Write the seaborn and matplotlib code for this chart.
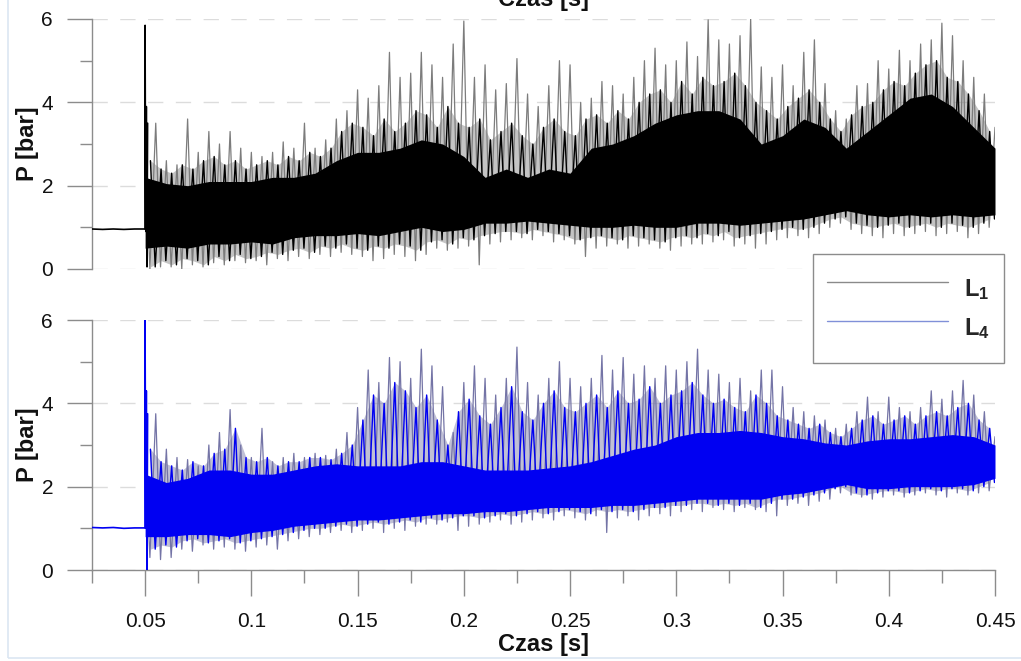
import numpy as np
import matplotlib
matplotlib.use("Agg")
import matplotlib.pyplot as plt
from matplotlib.lines import Line2D
from matplotlib.patches import Rectangle
from matplotlib.ticker import FixedLocator, FuncFormatter
import seaborn as sns

# ---------------------------------------------------------------------------
# Pressure records P [bar] vs time [s] for probes L1 and L4
# ---------------------------------------------------------------------------

# quiet phase before ignition
t_base = [0.025, 0.030, 0.035, 0.040, 0.045, 0.0499]
l1_base = [0.96, 0.95, 0.96, 0.95, 0.96, 0.96]
l4_base = [1.02, 1.01, 1.02, 1.00, 1.01, 1.01]

# ignition transient
t_onset = [0.0500, 0.0503, 0.0506, 0.0509, 0.0512]
l1_onset = [5.85, 0.90, 3.90, 0.05, 3.50]
l4_onset = [6.00, 1.00, 4.30, 0.00, 3.75]

# tallest spikes (peak / trough), every 5 ms from 0.05 s to 0.45 s
t_spk = np.linspace(0.05, 0.45, 81)
l1_spk_hi = [2.9, 3.5, 2.6, 2.5, 3.6, 2.8, 3.3, 3.0, 3.3, 2.9,
             2.8, 2.7, 2.8, 3.05, 2.9, 3.5, 2.9, 3.1, 3.6, 3.8,
             4.3, 4.1, 4.4, 5.2, 4.6, 4.7, 5.2, 4.9, 4.6, 5.4,
             5.95, 4.6, 4.9, 4.3, 4.45, 5.05, 4.2, 3.9, 4.4, 5.0,
             4.9, 4.0, 4.1, 4.5, 4.4, 4.2, 4.6, 5.0, 5.3, 4.9,
             5.0, 5.45, 5.1, 5.98, 5.5, 5.4, 5.6, 6.0, 4.85, 4.6,
             4.9, 4.4, 5.2, 5.5, 4.45, 3.8, 3.6, 4.4, 4.45, 5.0,
             4.8, 5.25, 5.0, 5.4, 5.5, 5.9, 5.6, 5.0, 4.6, 4.2,
             3.4]
l1_spk_lo = [0.0, 0.05, 0.05, 0.0, 0.1, 0.05, 0.15, 0.1, 0.2, 0.15,
             0.2, 0.1, 0.25, 0.2, 0.3, 0.25, 0.35, 0.3, 0.4, 0.35,
             0.3, 0.2, 0.25, 0.35, 0.3, 0.2, 0.35, 0.5, 0.45, 0.5,
             0.55, 0.1, 0.6, 0.65, 0.7, 0.75, 0.7, 0.8, 0.65, 0.7,
             0.6, 0.3, 0.5, 0.55, 0.6, 0.5, 0.55, 0.6, 0.5, 0.45,
             0.55, 0.6, 0.6, 0.65, 0.7, 0.55, 0.6, 0.5, 0.6, 0.7,
             0.75, 0.8, 0.75, 0.85, 1.0, 1.1, 0.95, 0.85, 0.8, 0.75,
             0.85, 0.8, 0.85, 0.9, 0.8, 0.85, 0.9, 0.75, 0.85, 1.0,
             1.1]
l4_spk_hi = [2.8, 3.75, 2.9, 2.7, 2.65, 2.5, 3.0, 3.3, 3.85, 3.0,
             2.7, 3.4, 2.6, 2.7, 2.8, 2.7, 2.8, 2.75, 2.9, 3.3,
             3.9, 4.8, 4.5, 5.1, 5.0, 4.6, 5.3, 4.9, 4.4, 3.3,
             4.5, 4.9, 4.6, 4.2, 4.6, 5.35, 4.5, 4.2, 4.6, 5.0,
             4.6, 4.4, 4.6, 5.15, 4.8, 5.1, 4.7, 4.9, 4.6, 4.9,
             4.8, 5.0, 5.3, 4.8, 4.7, 4.5, 4.6, 4.3, 4.8, 4.8,
             4.4, 3.9, 3.8, 3.7, 3.6, 3.4, 3.5, 3.8, 4.15, 3.8,
             4.15, 3.9, 3.8, 3.9, 4.3, 4.1, 4.3, 4.55, 4.2, 3.8,
             3.2]
l4_spk_lo = [0.3, 0.25, 0.3, 0.5, 0.45, 0.6, 0.5, 0.55, 0.5, 0.45,
             0.55, 0.6, 0.5, 0.7, 0.75, 0.8, 0.85, 0.9, 0.95, 0.9,
             0.95, 1.0, 0.9, 1.0, 0.95, 1.05, 1.1, 1.1, 1.15, 0.95,
             1.05, 1.1, 1.15, 1.2, 1.1, 1.15, 1.2, 1.25, 1.2, 1.3,
             1.25, 1.2, 1.3, 0.9, 1.25, 1.3, 1.2, 1.3, 1.35, 1.3,
             1.4, 1.45, 1.4, 1.5, 1.45, 1.4, 1.5, 1.45, 1.4, 1.3,
             1.55, 1.6, 1.55, 1.65, 1.7, 1.85, 1.8, 1.75, 1.7, 1.75,
             1.8, 1.75, 1.8, 1.85, 1.8, 1.75, 1.85, 1.8, 1.85, 1.9,
             2.0]

# intermediate spikes between the tall ones, every 5 ms from 0.0525 s
t_mid = np.linspace(0.0525, 0.4475, 80)
l1_mid_hi = [2.6, 2.4, 2.3, 2.5, 2.4, 2.6, 2.7, 2.5, 2.6, 2.4,
             2.5, 2.6, 2.5, 2.7, 2.6, 2.8, 2.7, 2.9, 3.3, 3.5,
             3.4, 3.2, 3.6, 3.3, 3.5, 3.8, 3.7, 3.4, 3.9, 3.5,
             3.4, 3.6, 3.1, 3.3, 3.5, 3.2, 3.0, 3.4, 3.6, 3.3,
             3.2, 3.6, 3.7, 3.5, 3.8, 3.6, 4.0, 4.2, 4.3, 4.0,
             4.5, 4.2, 4.6, 4.4, 4.5, 4.7, 4.4, 4.0, 3.8, 3.6,
             3.9, 4.1, 4.3, 4.0, 3.6, 3.3, 3.7, 3.9, 4.0, 4.3,
             4.5, 4.4, 4.7, 4.9, 5.0, 4.6, 4.5, 4.2, 3.8, 3.3]
l1_mid_lo = [0.05, 0.2, 0.1, 0.25, 0.2, 0.1, 0.3, 0.2, 0.35, 0.25,
             0.3, 0.4, 0.35, 0.45, 0.5, 0.4, 0.55, 0.5, 0.6, 0.5,
             0.45, 0.55, 0.5, 0.6, 0.55, 0.45, 0.65, 0.7, 0.6, 0.75,
             0.7, 0.8, 0.85, 0.9, 0.9, 0.85, 0.95, 0.9, 0.85, 0.8,
             0.7, 0.75, 0.8, 0.75, 0.7, 0.8, 0.75, 0.7, 0.65, 0.75,
             0.8, 0.75, 0.85, 0.8, 0.9, 0.75, 0.8, 0.85, 0.9, 0.95,
             1.0, 0.95, 1.0, 1.1, 1.2, 1.25, 1.1, 1.05, 1.0, 1.05,
             1.1, 1.0, 1.05, 1.1, 1.0, 1.1, 1.05, 1.0, 1.1, 1.2]
l4_mid_hi = [2.9, 2.6, 2.5, 2.4, 2.6, 2.5, 2.8, 2.9, 3.4, 2.7,
             2.6, 2.7, 2.5, 2.6, 2.6, 2.7, 2.7, 2.65, 2.8, 3.0,
             3.6, 4.2, 4.0, 4.5, 4.3, 3.9, 4.2, 3.6, 3.0, 3.8,
             4.1, 3.7, 3.5, 3.9, 4.4, 3.8, 3.6, 4.0, 4.3, 3.9,
             3.8, 4.0, 4.2, 3.9, 4.3, 4.0, 4.1, 4.4, 4.0, 4.2,
             4.3, 4.5, 4.2, 4.0, 4.1, 3.9, 3.8, 4.2, 4.0, 3.7,
             3.6, 3.5, 3.4, 3.5, 3.3, 3.2, 3.4, 3.6, 3.7, 3.5,
             3.6, 3.7, 3.5, 3.7, 3.8, 3.7, 3.9, 4.0, 3.6, 3.4]
l4_mid_lo = [0.5, 0.6, 0.55, 0.7, 0.75, 0.65, 0.7, 0.75, 0.65, 0.7,
             0.75, 0.8, 0.85, 0.9, 0.95, 1.0, 1.0, 1.05, 1.1, 1.05,
             1.1, 1.15, 1.1, 1.15, 1.2, 1.15, 1.25, 1.2, 1.25, 1.3,
             1.3, 1.25, 1.3, 1.35, 1.3, 1.35, 1.4, 1.35, 1.4, 1.45,
             1.4, 1.35, 1.45, 1.4, 1.45, 1.4, 1.45, 1.5, 1.5, 1.55,
             1.55, 1.6, 1.6, 1.55, 1.6, 1.55, 1.6, 1.5, 1.6, 1.7,
             1.7, 1.75, 1.8, 1.85, 1.95, 2.0, 1.85, 1.8, 1.85, 1.9,
             1.9, 1.85, 1.9, 1.95, 1.9, 1.95, 1.95, 1.9, 2.0, 2.1]

# dense oscillation band, every 10 ms
t_core = np.linspace(0.05, 0.45, 41)
l1_core_hi = [2.2, 2.05, 2.0, 2.1, 2.1, 2.1, 2.2, 2.2, 2.3, 2.6,
              2.8, 2.8, 2.9, 3.1, 3.0, 2.7, 2.2, 2.4, 2.2, 2.4,
              2.3, 2.9, 3.0, 3.2, 3.5, 3.7, 3.8, 3.8, 3.6, 3.0,
              3.2, 3.6, 3.4, 2.9, 3.3, 3.7, 4.1, 4.2, 3.9, 3.4,
              2.9]
l1_core_lo = [0.5, 0.55, 0.5, 0.6, 0.6, 0.65, 0.6, 0.75, 0.8, 0.8,
              0.85, 0.8, 0.9, 1.0, 0.9, 0.95, 1.1, 1.1, 1.15, 1.1,
              1.05, 1.0, 1.0, 1.05, 1.0, 1.0, 1.1, 1.1, 1.05, 1.1,
              1.15, 1.2, 1.3, 1.4, 1.3, 1.25, 1.3, 1.25, 1.3, 1.25,
              1.3]
l4_core_hi = [2.3, 2.1, 2.2, 2.4, 2.4, 2.3, 2.3, 2.4, 2.5, 2.55,
              2.5, 2.5, 2.5, 2.6, 2.6, 2.5, 2.4, 2.4, 2.4, 2.45,
              2.5, 2.6, 2.75, 2.9, 3.0, 3.2, 3.3, 3.3, 3.35, 3.3,
              3.2, 3.15, 3.05, 3.0, 3.1, 3.15, 3.15, 3.2, 3.25, 3.2,
              3.0]
l4_core_lo = [0.8, 0.8, 0.85, 0.85, 0.8, 0.9, 0.95, 1.05, 1.1, 1.15,
              1.2, 1.2, 1.25, 1.3, 1.35, 1.35, 1.4, 1.4, 1.45, 1.5,
              1.5, 1.5, 1.55, 1.55, 1.6, 1.65, 1.7, 1.7, 1.7, 1.7,
              1.8, 1.85, 1.95, 2.05, 1.95, 1.95, 2.0, 2.0, 2.0, 2.05,
              2.2]

x_ticks = [0.05, 0.1, 0.15, 0.2, 0.25, 0.3, 0.35, 0.4, 0.45]
y_ticks = [0, 2, 4, 6]

# ---------------------------------------------------------------------------
sns.set_theme(style="white")
plt.rcParams["font.family"] = ["Liberation Sans", "DejaVu Sans"]
plt.rcParams["mathtext.fontset"] = "custom"
plt.rcParams["mathtext.rm"] = "Liberation Sans"
plt.rcParams["mathtext.bf"] = "Liberation Sans:bold"
plt.rcParams["mathtext.it"] = "Liberation Sans:italic"

W, H = 1021, 661
fig = plt.figure(figsize=(W / 100, H / 100), dpi=100)
fig.patch.set_facecolor("white")

# thin frame along the figure edge
fig.add_artist(Rectangle((8 / W, 3 / H), 1.2, 1.2, transform=fig.transFigure,
                         fill=False, edgecolor="#dbe6f2", lw=1.2))

ax_l, ax_w, ax_h = 92 / W, (995 - 92) / W, 250 / H
ax1 = fig.add_axes([ax_l, 1 - 269 / H, ax_w, ax_h])
ax2 = fig.add_axes([ax_l, 1 - 570 / H, ax_w, ax_h])

AX_GRAY = "#8c8c8c"
GRID = "#dcdcdc"
STEP = 0.005


def zigzag(t, hi, lo, drop):
    """Peak at t, trough a short time later: a saw-tooth trace."""
    t = np.asarray(t)
    xs = np.column_stack([t, t + drop]).ravel()
    ys = np.column_stack([hi, lo]).ravel()
    return xs, ys


def trace(ax, x, y, color, lw, z):
    sns.lineplot(x=x, y=y, ax=ax, color=color, lw=lw, estimator=None,
                 sort=False, legend=False, zorder=z)


def draw_record(ax, base, onset, spk_hi, spk_lo, mid_hi, mid_lo,
                core_hi, core_lo, dark, light):
    trace(ax, t_base, base, dark, 1.2, 5)
    trace(ax, [t_base[-1]] + t_onset, [base[-1]] + onset, dark, 1.1, 5)
    # the closely packed oscillations read as a tinted band
    ax.fill_between(t_mid, mid_lo, mid_hi, color=light, alpha=0.45, lw=0,
                    zorder=1)
    xs, ys = zigzag(t_spk, spk_hi, spk_lo, STEP * 0.45)
    trace(ax, xs, ys, light, 0.9, 2)
    ax.fill_between(t_core, core_lo, core_hi, color=dark, lw=0, zorder=3)
    xs, ys = zigzag(t_mid, mid_hi, mid_lo, STEP * 0.45)
    trace(ax, xs, ys, dark, 1.0, 4)


draw_record(ax1, l1_base, l1_onset, l1_spk_hi, l1_spk_lo, l1_mid_hi, l1_mid_lo,
            l1_core_hi, l1_core_lo, "#000000", "#7c7c7c")
draw_record(ax2, l4_base, l4_onset, l4_spk_hi, l4_spk_lo, l4_mid_hi, l4_mid_lo,
            l4_core_hi, l4_core_lo, "#0000f2", "#7474a6")

for ax in (ax1, ax2):
    ax.set_xlim(0.025, 0.45)
    ax.set_ylim(0, 6)
    ax.set_facecolor("none")
    ax.yaxis.set_major_locator(FixedLocator(y_ticks))
    ax.yaxis.set_minor_locator(FixedLocator([1, 3, 5]))
    ax.grid(axis="y", which="major", color=GRID, lw=1.0, ls=(0, (11, 9)), zorder=0)
    ax.set_axisbelow(True)
    for s in ("top", "right"):
        ax.spines[s].set_visible(False)
    ax.spines["left"].set_color(AX_GRAY)
    ax.spines["left"].set_linewidth(1.0)
    ax.tick_params(axis="y", which="major", direction="out", length=18,
                   width=1.0, color=AX_GRAY, pad=10, labelsize=15,
                   labelcolor="#111111", left=True)
    ax.tick_params(axis="y", which="minor", direction="out", length=9,
                   width=1.0, color=AX_GRAY, left=True)
    ax.set_ylabel("P [bar]", fontsize=17, fontweight="bold", labelpad=2,
                  color="#111111")

ax1.spines["bottom"].set_visible(False)
ax1.tick_params(axis="x", which="both", bottom=False, labelbottom=False)
ax1.set_xlabel("")

ax2.spines["bottom"].set_color(AX_GRAY)
ax2.spines["bottom"].set_linewidth(1.0)
ax2.xaxis.set_major_locator(FixedLocator(x_ticks))
ax2.xaxis.set_minor_locator(FixedLocator([0.025 + 0.05 * k for k in range(9)]))
ax2.xaxis.set_major_formatter(FuncFormatter(lambda v, p: f"{v:g}"))
ax2.tick_params(axis="x", which="major", direction="out", length=19,
                width=1.0, color=AX_GRAY, pad=11, labelsize=15,
                labelcolor="#111111", bottom=True)
ax2.tick_params(axis="x", which="minor", direction="out", length=9.5,
                width=1.0, color=AX_GRAY, bottom=True)
ax2.set_xlabel("Czas [s]", fontsize=17, fontweight="bold", labelpad=2,
               color="#111111")

# axis title of the upper panel, sitting at the very top edge
fig.text(ax_l + ax_w / 2, 1 - 6 / H, "Czas [s]", ha="center", va="baseline",
         fontsize=17, fontweight="bold", color="#111111")

handles = [Line2D([], [], color="#8a8a8a", lw=1.0),
           Line2D([], [], color="#8090d8", lw=1.0)]
labels = [r"$\mathbf{L}_\mathbf{1}$", r"$\mathbf{L}_\mathbf{4}$"]
fig.legend(handles, labels, loc="upper left",
           bbox_to_anchor=(813 / W, 1 - 254 / H), frameon=True, fancybox=False,
           edgecolor=AX_GRAY, facecolor="white", framealpha=1.0, fontsize=17,
           handlelength=5.1, handleheight=2.3, handletextpad=0.7,
           labelspacing=-0.08, borderpad=0.6, borderaxespad=0.0)
fig.legends[0].get_frame().set_linewidth(1.0)

fig.savefig("out.png", dpi=100, facecolor="white")
